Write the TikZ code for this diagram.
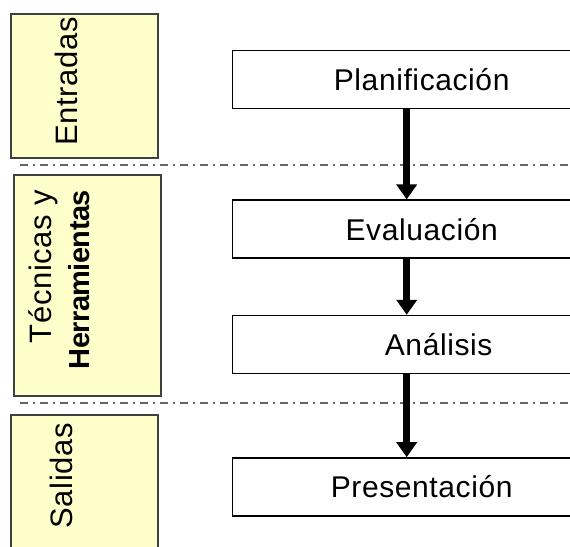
\documentclass[tikz,border=0pt]{standalone}
\usepackage{fontspec}
\setmainfont[LetterSpace=2]{Liberation Sans}
\newfontfamily\grassetto[LetterSpace=-2]{Liberation Sans}
\usetikzlibrary{arrows.meta, positioning, calc}
\definecolor{giallino}{HTML}{FFFFCC}
\tikzstyle{fase} = [rectangle, minimum width=147pt, draw=black!75, line width=1.6pt, fill=giallino, anchor=north west, inner sep=0pt]
\tikzstyle{etichetta} = [rotate=90, inner sep=0pt, font=\fontsize{31pt}{38pt}\selectfont]
\tikzstyle{process} = [rectangle, minimum width=378pt, minimum height=58pt, text centered, draw=black, line width=1.4pt, font=\fontsize{30pt}{36pt}\selectfont]
\tikzstyle{arrow} = [line width=7pt, -{Triangle[width=20pt, length=15pt]}]
\tikzstyle{separatore} = [draw=black!60, line width=1.6pt, dash pattern=on 8pt off 5pt on 2pt off 5pt]

\begin{document}
\begin{tikzpicture}[x=1pt, y=1pt]
    \useasboundingbox (0,0) rectangle (570,-546);

    % Colonne a sinistra
    \node (entradas) [fase, minimum height=144pt] at (10,-13) {};
    \node (tecnicas) [fase, minimum height=221pt] at (13,-174) {};
    \node (salidas) [fase, minimum height=150pt] at (10,-414) {};

    \node (entradasT) [etichetta, anchor=base east] at (77,-17) {Entradas};
    \node (tecnicasT) [etichetta, anchor=north east, align=right] at (28,-190) {Técnicas y\\{\grassetto\bfseries\fontsize{29pt}{38pt}\selectfont Herramientas}};
    \node (salidasT) [etichetta, anchor=base east] at (72,-423) {Salidas};

    % Nodi del diagramma
    \node (plan) [process, anchor=north west] at (232,-50) {Planificación};
    \node (eval) [process, below=90pt of plan] {Evaluación};
    \node (anal) [process, below=56pt of eval] {\hspace*{34pt}Análisis};
    \node (pres) [process, below=83pt of anal] {Presentación};

    % Separatori
    \draw [separatore] (20,-165) -- (570,-165);
    \draw [separatore] (20,-403) -- (570,-403);

    % Frecce del diagramma
    \draw [arrow] ([xshift=-15pt]plan.south) -- ([xshift=-15pt]eval.north);
    \draw [arrow] ([xshift=-15pt]eval.south) -- ([xshift=-15pt]anal.north);
    \draw [arrow] ([xshift=-15pt]anal.south) -- ([xshift=-15pt]pres.north);

\end{tikzpicture}
\end{document}
